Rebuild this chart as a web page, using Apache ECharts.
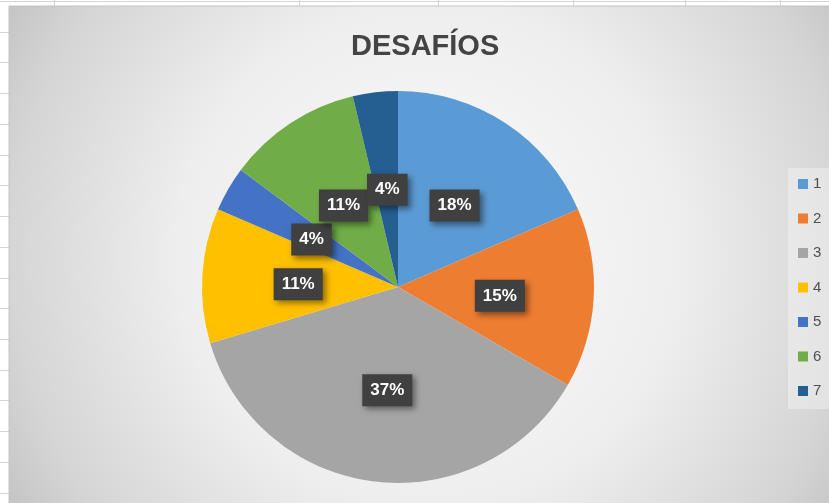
<!DOCTYPE html>
<html>
<head>
<meta charset="utf-8">
<script src="https://cdn.jsdelivr.net/npm/echarts@6/dist/echarts.min.js"></script>
<style>
  html, body { margin: 0; padding: 0; background: #ffffff; }
  #chart { width: 829px; height: 503px; }
</style>
</head>
<body>
<div id="chart"></div>
<script>
// ---- data ----
var titleText = 'DESAFÍOS';
var categories = ['1', '2', '3', '4', '5', '6', '7'];
var values = [5, 4, 10, 3, 1, 3, 1];
var colors = ['#5B9BD5', '#ED7D31', '#A5A5A5', '#FFC000', '#4472C4', '#70AD47', '#255E91'];

var chart = echarts.init(document.getElementById('chart'), null, { renderer: 'canvas' });

// spreadsheet decoration behind the chart
var deco = [];
for (var i = 0; i < 16; i++) {
  var y = Math.round(31.7 + i * 30.73) + 0.5;
  deco.push({ type: 'line', z: -20, silent: true,
    shape: { x1: 0, y1: y, x2: 9, y2: y },
    style: { stroke: '#d4d4d4', lineWidth: 1 } });
}
deco.push({ type: 'line', z: -20, silent: true,
  shape: { x1: 0, y1: 1.5, x2: 829, y2: 1.5 },
  style: { stroke: '#d4d4d4', lineWidth: 1 } });
[54, 299, 438, 573, 685, 780].forEach(function (x) {
  deco.push({ type: 'line', z: -20, silent: true,
    shape: { x1: x + 0.5, y1: 0, x2: x + 0.5, y2: 6 },
    style: { stroke: '#d4d4d4', lineWidth: 1 } });
});
// chart area with radial gradient
deco.push({ type: 'rect', z: -10, silent: true,
  shape: { x: 9, y: 6, width: 840, height: 520 },
  style: {
    fill: new echarts.graphic.RadialGradient(430, 255, 500, [
      { offset: 0, color: '#fbfbfb' },
      { offset: 0.5, color: '#eeeeee' },
      { offset: 0.84, color: '#d5d5d5' },
      { offset: 1, color: '#c2c2c2' }
    ], true),
    stroke: '#c4c4c4', lineWidth: 1
  } });
// legend box
deco.push({ type: 'rect', z: 1, silent: true,
  shape: { x: 788, y: 168, width: 60, height: 241 },
  style: { fill: 'rgba(255,255,255,0.33)' } });

var option = {
  animation: false,
  backgroundColor: '#ffffff',
  color: colors,
  graphic: { elements: deco },
  title: {
    text: titleText,
    left: 346,
    top: 27,
    textStyle: {
      fontFamily: 'Liberation Sans',
      fontSize: 29,
      fontWeight: 'bold',
      color: '#444444'
    }
  },
  legend: {
    orient: 'vertical',
    left: 798,
    top: 174,
    padding: 0,
    itemWidth: 10,
    itemHeight: 10,
    itemGap: 14.5,
    icon: 'rect',
    data: categories,
    textStyle: {
      fontFamily: 'Liberation Sans',
      fontSize: 15,
      lineHeight: 20,
      color: '#505050'
    }
  },
  series: [{
    type: 'pie',
    center: [398, 287],
    radius: 196,
    startAngle: 90,
    clockwise: true,
    percentPrecision: 0,
    avoidLabelOverlap: false,
    labelLayout: { hideOverlap: false },
    silent: true,
    emphasis: { disabled: true },
    itemStyle: { borderWidth: 0 },
    label: {
      show: true,
      position: 'inside',
      formatter: '{d}%',
      offset: [1, 3],
      fontFamily: 'Liberation Sans',
      fontSize: 17,
      fontWeight: 'bold',
      color: '#ffffff',
      lineHeight: 18,
      backgroundColor: '#404040',
      padding: [7, 8],
      shadowColor: 'rgba(0,0,0,0.45)',
      shadowBlur: 6,
      shadowOffsetX: 3,
      shadowOffsetY: 3
    },
    labelLine: { show: false },
    data: categories.map(function (c, i) { return { name: c, value: values[i] }; })
  }]
};
chart.setOption(option);
</script>
</body>
</html>
